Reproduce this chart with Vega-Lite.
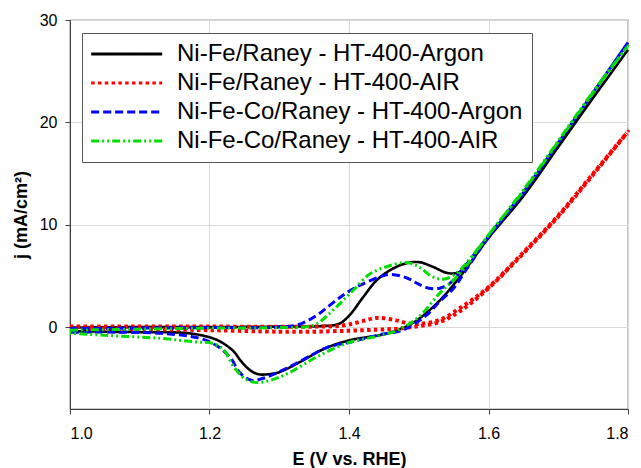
{
  "$schema": "https://vega.github.io/schema/vega-lite/v6.json",
  "width": 558,
  "height": 389,
  "autosize": "none",
  "padding": {"left": 70, "top": 20, "right": 13, "bottom": 59},
  "background": "white",
  "config": {
    "font": "Liberation Sans",
    "view": {"stroke": "#404040", "strokeWidth": 1.2},
    "axis": {
      "domainColor": "#404040",
      "tickColor": "#404040",
      "tickSize": 5,
      "gridColor": "#d9d9d9",
      "gridWidth": 1,
      "labelColor": "black",
      "labelFontSize": 16,
      "labelFont": "Liberation Sans",
      "titleColor": "black",
      "titleFontSize": 18,
      "titleFontWeight": "bold",
      "titleFont": "Liberation Sans"
    },
    "legend": {
      "orient": "none",
      "legendX": 12,
      "legendY": 13,
      "strokeColor": "#555555",
      "fillColor": "white",
      "padding": 9,
      "labelFontSize": 24,
      "labelFont": "Liberation Sans",
      "labelColor": "black",
      "labelLimit": 0,
      "symbolType": "M-2,0H10",
      "symbolSize": 140,
      "symbolStrokeWidth": 3,
      "labelOffset": 62,
      "rowPadding": 5
    }
  },
  "data": {
    "values": [
      {"s": "Ni-Fe/Raney - HT-400-Argon", "i": 1, "E": 1.00, "j": -0.05},
      {"s": "Ni-Fe/Raney - HT-400-Argon", "i": 2, "E": 1.10, "j": 0.0},
      {"s": "Ni-Fe/Raney - HT-400-Argon", "i": 3, "E": 1.20, "j": 0.0},
      {"s": "Ni-Fe/Raney - HT-400-Argon", "i": 4, "E": 1.30, "j": 0.05},
      {"s": "Ni-Fe/Raney - HT-400-Argon", "i": 5, "E": 1.36, "j": 0.1},
      {"s": "Ni-Fe/Raney - HT-400-Argon", "i": 6, "E": 1.385, "j": 0.3},
      {"s": "Ni-Fe/Raney - HT-400-Argon", "i": 7, "E": 1.40, "j": 1.1},
      {"s": "Ni-Fe/Raney - HT-400-Argon", "i": 8, "E": 1.42, "j": 2.9},
      {"s": "Ni-Fe/Raney - HT-400-Argon", "i": 9, "E": 1.44, "j": 4.6},
      {"s": "Ni-Fe/Raney - HT-400-Argon", "i": 10, "E": 1.46, "j": 5.6},
      {"s": "Ni-Fe/Raney - HT-400-Argon", "i": 11, "E": 1.48, "j": 6.2},
      {"s": "Ni-Fe/Raney - HT-400-Argon", "i": 12, "E": 1.50, "j": 6.35},
      {"s": "Ni-Fe/Raney - HT-400-Argon", "i": 13, "E": 1.52, "j": 5.9},
      {"s": "Ni-Fe/Raney - HT-400-Argon", "i": 14, "E": 1.54, "j": 5.3},
      {"s": "Ni-Fe/Raney - HT-400-Argon", "i": 15, "E": 1.555, "j": 5.3},
      {"s": "Ni-Fe/Raney - HT-400-Argon", "i": 16, "E": 1.57, "j": 6.0},
      {"s": "Ni-Fe/Raney - HT-400-Argon", "i": 17, "E": 1.60, "j": 8.8},
      {"s": "Ni-Fe/Raney - HT-400-Argon", "i": 18, "E": 1.65, "j": 12.9},
      {"s": "Ni-Fe/Raney - HT-400-Argon", "i": 19, "E": 1.70, "j": 17.7},
      {"s": "Ni-Fe/Raney - HT-400-Argon", "i": 20, "E": 1.75, "j": 22.4},
      {"s": "Ni-Fe/Raney - HT-400-Argon", "i": 21, "E": 1.80, "j": 27.1},
      {"s": "Ni-Fe/Raney - HT-400-Argon", "i": 22, "E": 1.75, "j": 22.4},
      {"s": "Ni-Fe/Raney - HT-400-Argon", "i": 23, "E": 1.70, "j": 17.6},
      {"s": "Ni-Fe/Raney - HT-400-Argon", "i": 24, "E": 1.65, "j": 12.8},
      {"s": "Ni-Fe/Raney - HT-400-Argon", "i": 25, "E": 1.60, "j": 8.7},
      {"s": "Ni-Fe/Raney - HT-400-Argon", "i": 26, "E": 1.56, "j": 5.0},
      {"s": "Ni-Fe/Raney - HT-400-Argon", "i": 27, "E": 1.53, "j": 2.6},
      {"s": "Ni-Fe/Raney - HT-400-Argon", "i": 28, "E": 1.50, "j": 0.8},
      {"s": "Ni-Fe/Raney - HT-400-Argon", "i": 29, "E": 1.48, "j": 0.0},
      {"s": "Ni-Fe/Raney - HT-400-Argon", "i": 30, "E": 1.45, "j": -0.7},
      {"s": "Ni-Fe/Raney - HT-400-Argon", "i": 31, "E": 1.40, "j": -1.3},
      {"s": "Ni-Fe/Raney - HT-400-Argon", "i": 32, "E": 1.365, "j": -2.1},
      {"s": "Ni-Fe/Raney - HT-400-Argon", "i": 33, "E": 1.33, "j": -3.4},
      {"s": "Ni-Fe/Raney - HT-400-Argon", "i": 34, "E": 1.30, "j": -4.4},
      {"s": "Ni-Fe/Raney - HT-400-Argon", "i": 35, "E": 1.285, "j": -4.6},
      {"s": "Ni-Fe/Raney - HT-400-Argon", "i": 36, "E": 1.27, "j": -4.6},
      {"s": "Ni-Fe/Raney - HT-400-Argon", "i": 37, "E": 1.258, "j": -4.2},
      {"s": "Ni-Fe/Raney - HT-400-Argon", "i": 38, "E": 1.245, "j": -3.3},
      {"s": "Ni-Fe/Raney - HT-400-Argon", "i": 39, "E": 1.235, "j": -2.4},
      {"s": "Ni-Fe/Raney - HT-400-Argon", "i": 40, "E": 1.22, "j": -1.6},
      {"s": "Ni-Fe/Raney - HT-400-Argon", "i": 41, "E": 1.205, "j": -1.1},
      {"s": "Ni-Fe/Raney - HT-400-Argon", "i": 42, "E": 1.17, "j": -0.6},
      {"s": "Ni-Fe/Raney - HT-400-Argon", "i": 43, "E": 1.10, "j": -0.5},
      {"s": "Ni-Fe/Raney - HT-400-Argon", "i": 44, "E": 1.00, "j": -0.4},

      {"s": "Ni-Fe/Raney - HT-400-AIR", "i": 1, "E": 1.00, "j": 0.05},
      {"s": "Ni-Fe/Raney - HT-400-AIR", "i": 2, "E": 1.20, "j": 0.05},
      {"s": "Ni-Fe/Raney - HT-400-AIR", "i": 3, "E": 1.35, "j": 0.05},
      {"s": "Ni-Fe/Raney - HT-400-AIR", "i": 4, "E": 1.39, "j": 0.15},
      {"s": "Ni-Fe/Raney - HT-400-AIR", "i": 5, "E": 1.415, "j": 0.5},
      {"s": "Ni-Fe/Raney - HT-400-AIR", "i": 6, "E": 1.44, "j": 0.9},
      {"s": "Ni-Fe/Raney - HT-400-AIR", "i": 7, "E": 1.465, "j": 0.7},
      {"s": "Ni-Fe/Raney - HT-400-AIR", "i": 8, "E": 1.485, "j": 0.35},
      {"s": "Ni-Fe/Raney - HT-400-AIR", "i": 9, "E": 1.50, "j": 0.3},
      {"s": "Ni-Fe/Raney - HT-400-AIR", "i": 10, "E": 1.53, "j": 0.7},
      {"s": "Ni-Fe/Raney - HT-400-AIR", "i": 11, "E": 1.56, "j": 1.9},
      {"s": "Ni-Fe/Raney - HT-400-AIR", "i": 12, "E": 1.60, "j": 3.9},
      {"s": "Ni-Fe/Raney - HT-400-AIR", "i": 13, "E": 1.65, "j": 7.3},
      {"s": "Ni-Fe/Raney - HT-400-AIR", "i": 14, "E": 1.70, "j": 10.9},
      {"s": "Ni-Fe/Raney - HT-400-AIR", "i": 15, "E": 1.75, "j": 15.0},
      {"s": "Ni-Fe/Raney - HT-400-AIR", "i": 16, "E": 1.80, "j": 19.1},
      {"s": "Ni-Fe/Raney - HT-400-AIR", "i": 17, "E": 1.75, "j": 14.9},
      {"s": "Ni-Fe/Raney - HT-400-AIR", "i": 18, "E": 1.70, "j": 10.8},
      {"s": "Ni-Fe/Raney - HT-400-AIR", "i": 19, "E": 1.65, "j": 7.2},
      {"s": "Ni-Fe/Raney - HT-400-AIR", "i": 20, "E": 1.60, "j": 3.8},
      {"s": "Ni-Fe/Raney - HT-400-AIR", "i": 21, "E": 1.56, "j": 1.6},
      {"s": "Ni-Fe/Raney - HT-400-AIR", "i": 22, "E": 1.53, "j": 0.5},
      {"s": "Ni-Fe/Raney - HT-400-AIR", "i": 23, "E": 1.50, "j": 0.1},
      {"s": "Ni-Fe/Raney - HT-400-AIR", "i": 24, "E": 1.47, "j": -0.15},
      {"s": "Ni-Fe/Raney - HT-400-AIR", "i": 25, "E": 1.44, "j": -0.25},
      {"s": "Ni-Fe/Raney - HT-400-AIR", "i": 26, "E": 1.40, "j": -0.35},
      {"s": "Ni-Fe/Raney - HT-400-AIR", "i": 27, "E": 1.35, "j": -0.45},
      {"s": "Ni-Fe/Raney - HT-400-AIR", "i": 28, "E": 1.30, "j": -0.45},
      {"s": "Ni-Fe/Raney - HT-400-AIR", "i": 29, "E": 1.20, "j": -0.3},
      {"s": "Ni-Fe/Raney - HT-400-AIR", "i": 30, "E": 1.10, "j": -0.2},
      {"s": "Ni-Fe/Raney - HT-400-AIR", "i": 31, "E": 1.00, "j": -0.15},

      {"s": "Ni-Fe-Co/Raney - HT-400-Argon", "i": 1, "E": 1.00, "j": -0.15},
      {"s": "Ni-Fe-Co/Raney - HT-400-Argon", "i": 2, "E": 1.10, "j": -0.1},
      {"s": "Ni-Fe-Co/Raney - HT-400-Argon", "i": 3, "E": 1.20, "j": -0.05},
      {"s": "Ni-Fe-Co/Raney - HT-400-Argon", "i": 4, "E": 1.30, "j": 0.0},
      {"s": "Ni-Fe-Co/Raney - HT-400-Argon", "i": 5, "E": 1.325, "j": 0.2},
      {"s": "Ni-Fe-Co/Raney - HT-400-Argon", "i": 6, "E": 1.34, "j": 0.6},
      {"s": "Ni-Fe-Co/Raney - HT-400-Argon", "i": 7, "E": 1.355, "j": 1.2},
      {"s": "Ni-Fe-Co/Raney - HT-400-Argon", "i": 8, "E": 1.37, "j": 2.0},
      {"s": "Ni-Fe-Co/Raney - HT-400-Argon", "i": 9, "E": 1.387, "j": 2.9},
      {"s": "Ni-Fe-Co/Raney - HT-400-Argon", "i": 10, "E": 1.40, "j": 3.5},
      {"s": "Ni-Fe-Co/Raney - HT-400-Argon", "i": 11, "E": 1.416, "j": 4.1},
      {"s": "Ni-Fe-Co/Raney - HT-400-Argon", "i": 12, "E": 1.444, "j": 4.9},
      {"s": "Ni-Fe-Co/Raney - HT-400-Argon", "i": 13, "E": 1.46, "j": 5.15},
      {"s": "Ni-Fe-Co/Raney - HT-400-Argon", "i": 14, "E": 1.483, "j": 4.8},
      {"s": "Ni-Fe-Co/Raney - HT-400-Argon", "i": 15, "E": 1.50, "j": 4.2},
      {"s": "Ni-Fe-Co/Raney - HT-400-Argon", "i": 16, "E": 1.515, "j": 3.8},
      {"s": "Ni-Fe-Co/Raney - HT-400-Argon", "i": 17, "E": 1.53, "j": 3.8},
      {"s": "Ni-Fe-Co/Raney - HT-400-Argon", "i": 18, "E": 1.545, "j": 4.3},
      {"s": "Ni-Fe-Co/Raney - HT-400-Argon", "i": 19, "E": 1.562, "j": 5.6},
      {"s": "Ni-Fe-Co/Raney - HT-400-Argon", "i": 20, "E": 1.60, "j": 8.9},
      {"s": "Ni-Fe-Co/Raney - HT-400-Argon", "i": 21, "E": 1.65, "j": 13.2},
      {"s": "Ni-Fe-Co/Raney - HT-400-Argon", "i": 22, "E": 1.70, "j": 18.0},
      {"s": "Ni-Fe-Co/Raney - HT-400-Argon", "i": 23, "E": 1.75, "j": 22.9},
      {"s": "Ni-Fe-Co/Raney - HT-400-Argon", "i": 24, "E": 1.80, "j": 27.8},
      {"s": "Ni-Fe-Co/Raney - HT-400-Argon", "i": 25, "E": 1.75, "j": 22.9},
      {"s": "Ni-Fe-Co/Raney - HT-400-Argon", "i": 26, "E": 1.70, "j": 18.0},
      {"s": "Ni-Fe-Co/Raney - HT-400-Argon", "i": 27, "E": 1.65, "j": 13.1},
      {"s": "Ni-Fe-Co/Raney - HT-400-Argon", "i": 28, "E": 1.60, "j": 8.8},
      {"s": "Ni-Fe-Co/Raney - HT-400-Argon", "i": 29, "E": 1.565, "j": 5.3},
      {"s": "Ni-Fe-Co/Raney - HT-400-Argon", "i": 30, "E": 1.55, "j": 3.8},
      {"s": "Ni-Fe-Co/Raney - HT-400-Argon", "i": 31, "E": 1.53, "j": 2.5},
      {"s": "Ni-Fe-Co/Raney - HT-400-Argon", "i": 32, "E": 1.515, "j": 1.4},
      {"s": "Ni-Fe-Co/Raney - HT-400-Argon", "i": 33, "E": 1.50, "j": 0.6},
      {"s": "Ni-Fe-Co/Raney - HT-400-Argon", "i": 34, "E": 1.477, "j": -0.3},
      {"s": "Ni-Fe-Co/Raney - HT-400-Argon", "i": 35, "E": 1.44, "j": -0.8},
      {"s": "Ni-Fe-Co/Raney - HT-400-Argon", "i": 36, "E": 1.406, "j": -1.4},
      {"s": "Ni-Fe-Co/Raney - HT-400-Argon", "i": 37, "E": 1.368, "j": -2.0},
      {"s": "Ni-Fe-Co/Raney - HT-400-Argon", "i": 38, "E": 1.334, "j": -3.2},
      {"s": "Ni-Fe-Co/Raney - HT-400-Argon", "i": 39, "E": 1.305, "j": -4.2},
      {"s": "Ni-Fe-Co/Raney - HT-400-Argon", "i": 40, "E": 1.277, "j": -5.0},
      {"s": "Ni-Fe-Co/Raney - HT-400-Argon", "i": 41, "E": 1.26, "j": -5.2},
      {"s": "Ni-Fe-Co/Raney - HT-400-Argon", "i": 42, "E": 1.244, "j": -4.5},
      {"s": "Ni-Fe-Co/Raney - HT-400-Argon", "i": 43, "E": 1.23, "j": -3.0},
      {"s": "Ni-Fe-Co/Raney - HT-400-Argon", "i": 44, "E": 1.21, "j": -1.8},
      {"s": "Ni-Fe-Co/Raney - HT-400-Argon", "i": 45, "E": 1.186, "j": -1.1},
      {"s": "Ni-Fe-Co/Raney - HT-400-Argon", "i": 46, "E": 1.13, "j": -0.6},
      {"s": "Ni-Fe-Co/Raney - HT-400-Argon", "i": 47, "E": 1.00, "j": -0.5},

      {"s": "Ni-Fe-Co/Raney - HT-400-AIR", "i": 1, "E": 1.00, "j": -0.3},
      {"s": "Ni-Fe-Co/Raney - HT-400-AIR", "i": 2, "E": 1.10, "j": -0.2},
      {"s": "Ni-Fe-Co/Raney - HT-400-AIR", "i": 3, "E": 1.20, "j": -0.1},
      {"s": "Ni-Fe-Co/Raney - HT-400-AIR", "i": 4, "E": 1.30, "j": -0.05},
      {"s": "Ni-Fe-Co/Raney - HT-400-AIR", "i": 5, "E": 1.345, "j": 0.1},
      {"s": "Ni-Fe-Co/Raney - HT-400-AIR", "i": 6, "E": 1.358, "j": 0.5},
      {"s": "Ni-Fe-Co/Raney - HT-400-AIR", "i": 7, "E": 1.37, "j": 1.2},
      {"s": "Ni-Fe-Co/Raney - HT-400-AIR", "i": 8, "E": 1.387, "j": 2.3},
      {"s": "Ni-Fe-Co/Raney - HT-400-AIR", "i": 9, "E": 1.406, "j": 3.6},
      {"s": "Ni-Fe-Co/Raney - HT-400-AIR", "i": 10, "E": 1.43, "j": 5.2},
      {"s": "Ni-Fe-Co/Raney - HT-400-AIR", "i": 11, "E": 1.454, "j": 5.9},
      {"s": "Ni-Fe-Co/Raney - HT-400-AIR", "i": 12, "E": 1.477, "j": 6.3},
      {"s": "Ni-Fe-Co/Raney - HT-400-AIR", "i": 13, "E": 1.49, "j": 6.2},
      {"s": "Ni-Fe-Co/Raney - HT-400-AIR", "i": 14, "E": 1.502, "j": 5.8},
      {"s": "Ni-Fe-Co/Raney - HT-400-AIR", "i": 15, "E": 1.52, "j": 4.9},
      {"s": "Ni-Fe-Co/Raney - HT-400-AIR", "i": 16, "E": 1.537, "j": 4.7},
      {"s": "Ni-Fe-Co/Raney - HT-400-AIR", "i": 17, "E": 1.555, "j": 5.3},
      {"s": "Ni-Fe-Co/Raney - HT-400-AIR", "i": 18, "E": 1.57, "j": 6.4},
      {"s": "Ni-Fe-Co/Raney - HT-400-AIR", "i": 19, "E": 1.60, "j": 9.0},
      {"s": "Ni-Fe-Co/Raney - HT-400-AIR", "i": 20, "E": 1.65, "j": 13.4},
      {"s": "Ni-Fe-Co/Raney - HT-400-AIR", "i": 21, "E": 1.70, "j": 18.2},
      {"s": "Ni-Fe-Co/Raney - HT-400-AIR", "i": 22, "E": 1.75, "j": 23.0},
      {"s": "Ni-Fe-Co/Raney - HT-400-AIR", "i": 23, "E": 1.80, "j": 27.5},
      {"s": "Ni-Fe-Co/Raney - HT-400-AIR", "i": 24, "E": 1.75, "j": 22.9},
      {"s": "Ni-Fe-Co/Raney - HT-400-AIR", "i": 25, "E": 1.70, "j": 18.1},
      {"s": "Ni-Fe-Co/Raney - HT-400-AIR", "i": 26, "E": 1.65, "j": 13.3},
      {"s": "Ni-Fe-Co/Raney - HT-400-AIR", "i": 27, "E": 1.60, "j": 9.0},
      {"s": "Ni-Fe-Co/Raney - HT-400-AIR", "i": 28, "E": 1.56, "j": 5.3},
      {"s": "Ni-Fe-Co/Raney - HT-400-AIR", "i": 29, "E": 1.53, "j": 3.3},
      {"s": "Ni-Fe-Co/Raney - HT-400-AIR", "i": 30, "E": 1.50, "j": 1.0},
      {"s": "Ni-Fe-Co/Raney - HT-400-AIR", "i": 31, "E": 1.47, "j": -0.3},
      {"s": "Ni-Fe-Co/Raney - HT-400-AIR", "i": 32, "E": 1.44, "j": -0.9},
      {"s": "Ni-Fe-Co/Raney - HT-400-AIR", "i": 33, "E": 1.40, "j": -1.5},
      {"s": "Ni-Fe-Co/Raney - HT-400-AIR", "i": 34, "E": 1.354, "j": -2.9},
      {"s": "Ni-Fe-Co/Raney - HT-400-AIR", "i": 35, "E": 1.316, "j": -4.4},
      {"s": "Ni-Fe-Co/Raney - HT-400-AIR", "i": 36, "E": 1.287, "j": -5.2},
      {"s": "Ni-Fe-Co/Raney - HT-400-AIR", "i": 37, "E": 1.265, "j": -5.4},
      {"s": "Ni-Fe-Co/Raney - HT-400-AIR", "i": 38, "E": 1.25, "j": -5.0},
      {"s": "Ni-Fe-Co/Raney - HT-400-AIR", "i": 39, "E": 1.235, "j": -3.9},
      {"s": "Ni-Fe-Co/Raney - HT-400-AIR", "i": 40, "E": 1.22, "j": -2.2},
      {"s": "Ni-Fe-Co/Raney - HT-400-AIR", "i": 41, "E": 1.205, "j": -1.6},
      {"s": "Ni-Fe-Co/Raney - HT-400-AIR", "i": 42, "E": 1.18, "j": -1.45},
      {"s": "Ni-Fe-Co/Raney - HT-400-AIR", "i": 43, "E": 1.13, "j": -1.1},
      {"s": "Ni-Fe-Co/Raney - HT-400-AIR", "i": 44, "E": 1.05, "j": -0.8},
      {"s": "Ni-Fe-Co/Raney - HT-400-AIR", "i": 45, "E": 1.00, "j": -0.6}
    ]
  },
  "encoding": {
    "x": {
      "field": "E",
      "type": "quantitative",
      "scale": {"domain": [1.0, 1.8], "nice": false, "zero": false},
      "axis": {
        "title": "E (V vs. RHE)",
        "values": [1.0, 1.2, 1.4, 1.6, 1.8],
        "format": ".1f",
        "labelPadding": 11,
        "titlePadding": 9
      }
    },
    "y": {
      "field": "j",
      "type": "quantitative",
      "scale": {"domain": [-8, 30], "nice": false, "zero": false},
      "axis": {
        "title": "j (mA/cm²)",
        "values": [0, 10, 20, 30],
        "labelPadding": 8,
        "titlePadding": 9
      }
    },
    "order": {"field": "i", "type": "quantitative"},
    "color": {
      "field": "s",
      "type": "nominal",
      "title": null,
      "scale": {
        "domain": ["Ni-Fe/Raney - HT-400-Argon", "Ni-Fe/Raney - HT-400-AIR", "Ni-Fe-Co/Raney - HT-400-Argon", "Ni-Fe-Co/Raney - HT-400-AIR"],
        "range": ["#000000", "#ff0000", "#0000ff", "#00dd00"]
      }
    },
    "strokeDash": {
      "field": "s",
      "type": "nominal",
      "title": null,
      "scale": {
        "domain": ["Ni-Fe/Raney - HT-400-Argon", "Ni-Fe/Raney - HT-400-AIR", "Ni-Fe-Co/Raney - HT-400-Argon", "Ni-Fe-Co/Raney - HT-400-AIR"],
        "range": [[1, 0], [3.5, 3.3], [8, 4], [8, 3, 2, 3, 2, 3]]
      }
    }
  },
  "layer": [
    {
      "transform": [{"filter": "datum.s === 'Ni-Fe/Raney - HT-400-Argon'"}],
      "mark": {"type": "line", "interpolate": "catmull-rom", "strokeWidth": 2.6}
    },
    {
      "transform": [{"filter": "datum.s === 'Ni-Fe/Raney - HT-400-AIR'"}],
      "mark": {"type": "line", "interpolate": "catmull-rom", "strokeWidth": 4}
    },
    {
      "transform": [{"filter": "datum.s === 'Ni-Fe-Co/Raney - HT-400-Argon'"}],
      "mark": {"type": "line", "interpolate": "catmull-rom", "strokeWidth": 3}
    },
    {
      "transform": [{"filter": "datum.s === 'Ni-Fe-Co/Raney - HT-400-AIR'"}],
      "mark": {"type": "line", "interpolate": "catmull-rom", "strokeWidth": 3}
    }
  ]
}
